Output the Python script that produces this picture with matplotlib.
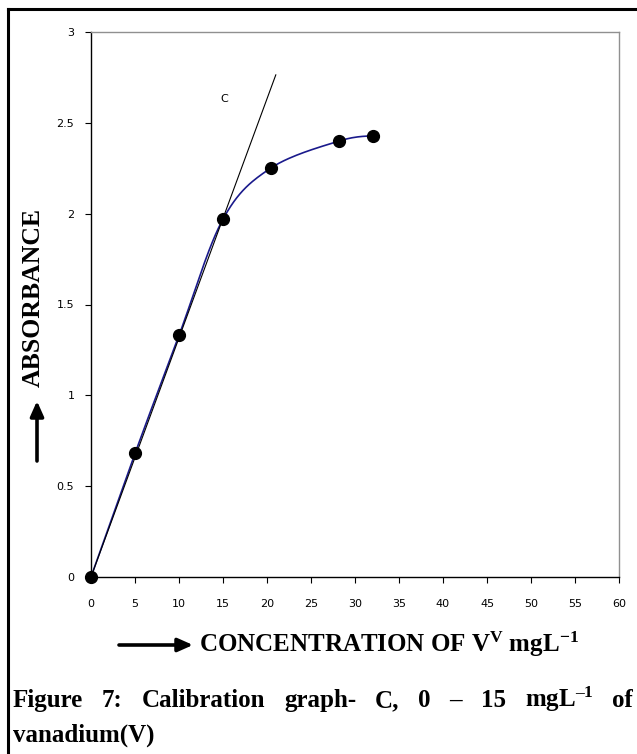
import numpy as np
import matplotlib
matplotlib.use("Agg")
import matplotlib.pyplot as plt
from matplotlib.lines import Line2D

plt.rcParams["mathtext.fontset"] = "custom"
plt.rcParams["mathtext.bf"] = "Liberation Serif:bold"
plt.rcParams["mathtext.rm"] = "Liberation Serif:bold"
plt.rcParams["mathtext.it"] = "Liberation Serif:bold"

# calibration data
conc = [0, 5, 10, 15, 20.4, 28.2, 32.1]
absorb = [0, 0.68, 1.33, 1.97, 2.25, 2.40, 2.43]

# tangent line through the linear range (label C)
tan_x = [0, 21.0]
tan_y = [0, 2.764]

x_ticks = [0, 5, 10, 15, 20, 25, 30, 35, 40, 45, 50, 55, 60]
y_ticks = [0, 0.5, 1, 1.5, 2, 2.5, 3]
y_labels = ["0", "0.5", "1", "1.5", "2", "2.5", "3"]

caption_words = ["Figure", "7:", "Calibration", "graph-", "C,", "0", "\u2013", "15",
                 "mgL$^{\\mathbf{\u2013}\\mathbf{1}}$", "of"]


def smooth(xs, ys, n=30):
    # Catmull-Rom style smoothing like a spreadsheet "smoothed line"
    px = [xs[0]] + list(xs) + [xs[-1]]
    py = [ys[0]] + list(ys) + [ys[-1]]
    out_x, out_y = [], []
    t = np.linspace(0, 1, n)
    for i in range(1, len(px) - 2):
        p0, p1, p2, p3 = [np.array([px[j], py[j]]) for j in range(i - 1, i + 3)]
        c1 = p1 + (p2 - p0) / 6
        c2 = p2 - (p3 - p1) / 6
        b = ((1 - t) ** 3)[:, None] * p1 + (3 * (1 - t) ** 2 * t)[:, None] * c1 \
            + (3 * (1 - t) * t ** 2)[:, None] * c2 + (t ** 3)[:, None] * p2
        out_x.extend(b[:, 0])
        out_y.extend(b[:, 1])
    return out_x, out_y


W, H = 637, 754
fig = plt.figure(figsize=(W / 100, H / 100), dpi=100)
ax = fig.add_axes([91 / W, 1 - 577 / H, 528 / W, 545 / H])

sx, sy = smooth(conc, absorb)
ax.plot(sx, sy, color="#1a1a8c", lw=1.2, zorder=2)
ax.plot(tan_x, tan_y, color="black", lw=0.8, zorder=2)
ax.plot(conc, absorb, "o", color="black", ms=8.5, zorder=3, clip_on=False)
ax.text(15.1, 2.63, "C", fontsize=8, family="DejaVu Sans", ha="center", va="center")

ax.set_xlim(0, 60)
ax.set_ylim(0, 3)
ax.set_xticks(x_ticks)
ax.set_yticks(y_ticks)
ax.set_yticklabels(y_labels)
ax.tick_params(direction="out", length=4, width=0.8, labelsize=8, color="black")
ax.tick_params(axis="x", pad=12)
ax.tick_params(axis="y", pad=8)
for lab in ax.get_xticklabels() + ax.get_yticklabels():
    lab.set_family(["Liberation Sans Narrow", "DejaVu Sans"])
for s in ["left", "bottom"]:
    ax.spines[s].set_color("black")
    ax.spines[s].set_linewidth(1.0)
for s in ["top", "right"]:
    ax.spines[s].set_color("#909090")
    ax.spines[s].set_linewidth(1.0)

serif = ["Liberation Serif", "DejaVu Serif"]
arrow = dict(arrowstyle="-|>,head_width=0.4,head_length=0.9", color="black", lw=2.6,
             shrinkA=0, shrinkB=0)

# y-axis title with arrow
fig.text(33 / W, 1 - 297 / H, "ABSORBANCE", rotation=90, ha="center", va="center",
         fontsize=18.5, fontweight="bold", family=serif)
ax.annotate("", xy=(37 / W, 1 - 401 / H), xycoords="figure fraction",
            xytext=(37 / W, 1 - 461 / H), textcoords="figure fraction", arrowprops=arrow)

# x-axis title with arrow
fig.text(199 / W, 1 - 652 / H, "CONCENTRATION OF V$^{\\mathbf{V}}$ mgL$^{\\mathbf{-1}}$",
         ha="left", va="baseline", fontsize=18, fontweight="bold", family=serif)
ax.annotate("", xy=(193 / W, 1 - 645 / H), xycoords="figure fraction",
            xytext=(119 / W, 1 - 645 / H), textcoords="figure fraction", arrowprops=arrow)

# caption, justified first line
renderer = fig.canvas.get_renderer()
items = [fig.text(0, 1 - 707 / H, w, ha="left", va="baseline", fontsize=18,
                  fontweight="bold", family=serif) for w in caption_words]
widths = [t.get_window_extent(renderer).width for t in items]
x0, x1 = 13, 633
gap = (x1 - x0 - sum(widths)) / (len(items) - 1)
x = x0
for t, w in zip(items, widths):
    t.set_x(x / W)
    x += w + gap
fig.text(13 / W, 1 - 742 / H, "vanadium(V)", ha="left", va="baseline", fontsize=18,
         fontweight="bold", family=serif)

# page frame (left and top edges)
fig.add_artist(Line2D([8 / W, 8 / W], [0, 1 - 9 / H], color="black", lw=2.2,
                      transform=fig.transFigure))
fig.add_artist(Line2D([8 / W, 1], [1 - 9 / H, 1 - 9 / H], color="black", lw=2.2,
                      transform=fig.transFigure))

fig.savefig("out.png", dpi=100)
